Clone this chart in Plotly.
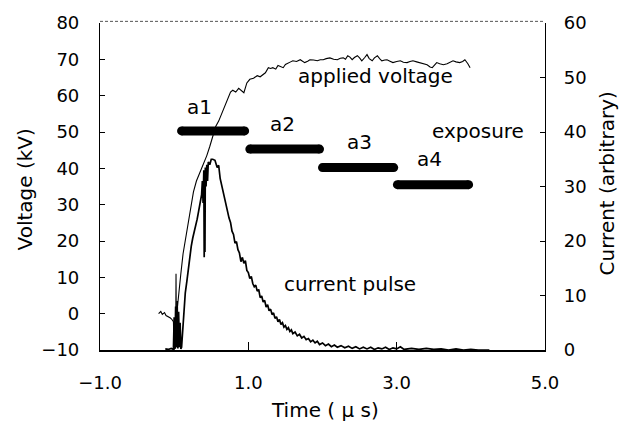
import plotly.graph_objects as go

# ---- data ----
t_voltage = [-0.21,-0.18,-0.16,-0.13,-0.11,-0.08,-0.05,-0.03,-0.01,0.00,0.01,0.02,0.025,0.03,0.04,0.06,0.09,0.12,0.16,0.19,
             0.23,0.26,0.30,0.35,0.40,0.44,0.48,0.52,0.56,0.60,0.64,0.67,0.70,0.73,0.76,0.79,0.83,0.87,0.90,0.94,
             0.98,1.02,1.07,1.12,1.16,1.20,1.23,1.27,1.30,1.33,1.37,1.40,1.43,1.47,1.50,1.54,1.57,1.60,1.65,1.70,
             1.73,1.76,1.80,1.83,1.88,1.93,1.97,2.01,2.05,2.10,2.15,2.20,2.24,2.28,2.31,2.34,2.37,2.40,2.43,2.47,
             2.50,2.53,2.57,2.60,2.63,2.67,2.70,2.74,2.77,2.80,2.84,2.87,2.91,2.95,3.00,3.05,3.09,3.14,3.18,3.22,
             3.27,3.31,3.36,3.41,3.45,3.48,3.51,3.54,3.58,3.63,3.68,3.72,3.76,3.80,3.85,3.89,3.92,3.96,3.99]
voltage_kv = [0.0,0.6,-0.2,0.3,-0.5,-0.8,-1.2,-1.6,-2.2,-10,-5,-9.5,11,-8,1,5.5,11,16.5,21.5,25.5,
              30,33.5,36.5,39,41,43.5,46,49,51.5,53,55,56,57.5,59,61,61.5,61,62,61.5,60.8,
              63.5,64.5,64.8,65.5,65.2,65.8,66.3,67.7,67.5,67.7,67.3,68.3,68.0,67.7,68.6,69.1,69.3,69.6,69.4,69.9,
              69.6,69.1,69.5,69.9,69.8,69.6,69.9,69.9,70.2,70.4,70.0,69.9,70.3,70.4,70.0,71.0,70.6,69.9,70.5,71.0,
              70.4,69.6,70.5,71.3,70.2,69.6,70.4,71.0,70.2,69.6,69.8,69.9,69.5,69.1,69.4,69.6,69.2,69.1,69.4,69.6,
              69.3,69.1,68.8,68.5,67.9,67.7,68.4,69.1,68.8,68.5,68.8,69.3,69.6,69.3,69.1,69.4,69.9,68.8,67.7]

t_current = [-0.12,-0.08,-0.04,-0.01,0.00,0.01,0.02,0.03,0.04,0.05,0.06,0.07,0.08,0.09,0.10,0.11,0.13,0.15,0.17,0.19,
             0.21,0.23,0.25,0.27,0.29,0.31,0.33,0.35,0.37,0.38,0.39,0.40,0.405,0.41,0.415,0.42,0.43,0.44,0.45,0.46,
             0.48,0.50,0.52,0.55,0.58,0.60,0.62,0.64,0.66,0.68,0.70,0.72,0.74,0.76,0.78,0.80,0.82,0.84,0.86,0.88,
             0.90,0.92,0.94,0.96,0.98,1.00,1.02,1.04,1.06,1.08,1.10,1.12,1.14,1.16,1.18,1.20,1.22,1.24,1.26,1.28,
             1.30,1.32,1.34,1.36,1.38,1.40,1.42,1.44,1.46,1.48,1.50,1.52,1.54,1.56,1.58,1.60,1.63,1.66,1.69,1.72,
             1.75,1.78,1.81,1.84,1.87,1.90,1.93,1.96,2.00,2.04,2.08,2.12,2.16,2.20,2.25,2.30,2.35,2.40,2.45,2.50,
             2.55,2.60,2.65,2.70,2.75,2.80,2.85,2.90,2.95,3.00,3.05,3.10,3.20,3.30,3.40,3.50,3.60,3.70,3.80,3.90,
             4.00,4.10,4.25]
current_arb = [0.2,0.1,0.3,0.1,6,0.2,8,0.5,9,0.3,7,0.5,5,0.2,0.5,3,7.5,10.5,12.5,15,
               17.5,19,20.5,21.5,23,24,25.5,27,28.5,31,27,33,17,32,18,33.5,30,34,31,34.5,
               34,35,35,34.8,33.5,33.9,31.5,30.2,28.9,27.8,26.3,25.4,24.2,23.4,21.8,21.2,19.6,19.9,18.4,17.8,
               16.2,17.0,15.9,16.4,14.6,14.2,13.1,13.5,12.2,11.6,11.9,10.8,11.1,9.6,9.9,8.8,9.1,7.9,8.3,7.2,
               7.5,6.5,6.8,5.8,6.1,5.2,5.6,4.7,5.0,4.2,4.5,3.8,4.1,3.4,3.7,3.0,3.3,2.6,2.9,2.2,
               2.5,1.9,2.1,1.5,1.8,1.3,1.6,1.0,1.3,0.8,1.1,0.6,0.9,0.5,0.8,0.4,0.7,0.3,0.6,0.2,
               0.5,0.2,0.5,0.1,0.4,0.2,0.5,0.1,0.4,0.2,0.6,0.1,0.3,0.1,0.3,0.1,0.2,0.0,0.2,0.0,
               0.1,0.0,0.0]

exposure_labels = ["a1", "a2", "a3", "a4"]
exposure_start = [0.10, 1.02, 2.00, 3.01]
exposure_end = [0.95, 1.96, 2.96, 3.97]
exposure_kv = [50.3, 45.3, 40.2, 35.5]

x_ticks = [-1.0, 1.0, 3.0, 5.0]

FONT = "DejaVu Sans"

fig = go.Figure()

fig.add_trace(go.Scatter(x=t_current, y=current_arb, mode="lines", yaxis="y2",
                         line=dict(color="black", width=1.7), showlegend=False))
fig.add_trace(go.Scatter(x=t_voltage, y=voltage_kv, mode="lines",
                         line=dict(color="black", width=1.1), showlegend=False))

for s, e, v in zip(exposure_start, exposure_end, exposure_kv):
    fig.add_trace(go.Scatter(x=[s, e], y=[v, v], mode="lines+markers",
                             line=dict(color="black", width=9),
                             marker=dict(color="black", size=9, line=dict(width=0)),
                             showlegend=False))

label_pos = [(0.335, 56.8), (1.454, 52.2), (2.505, 47.3), (3.436, 42.6)]
annotations = []
for lab, (x, y) in zip(exposure_labels, label_pos):
    annotations.append(dict(x=x, y=y, text=lab, showarrow=False, xref="x", yref="y",
                            xanchor="center", yanchor="middle",
                            font=dict(family=FONT, size=20, color="black")))
for txt, x, y in [("exposure", 4.097, 50.3), ("applied voltage", 2.721, 65.5), ("current pulse", 2.371, 8.3)]:
    annotations.append(dict(x=x, y=y, text=txt, showarrow=False, xref="x", yref="y",
                            xanchor="center", yanchor="middle",
                            font=dict(family=FONT, size=20, color="black")))

annotations.append(dict(x=-0.1685, y=0.491, xref="paper", yref="paper", text="Voltage (kV)",
                        textangle=-90, showarrow=False, xanchor="center", yanchor="middle",
                        font=dict(family=FONT, size=20, color="black")))
annotations.append(dict(x=1.139, y=0.509, xref="paper", yref="paper", text="Current (arbitrary)",
                        textangle=-90, showarrow=False, xanchor="center", yanchor="middle",
                        font=dict(family=FONT, size=20, color="black")))
annotations.append(dict(x=0.5056, y=-0.185, xref="paper", yref="paper", text="Time ( μ s)",
                        showarrow=False, xanchor="center", yanchor="middle",
                        font=dict(family=FONT, size=20, color="black")))

fig.update_layout(
    width=628, height=425, autosize=False,
    margin=dict(l=100, r=83, t=20, b=75, pad=0),
    paper_bgcolor="white", plot_bgcolor="white",
    font=dict(family=FONT, size=18, color="black"),
    annotations=annotations,
    xaxis=dict(range=[-1, 5], tickvals=x_ticks, tickformat=".1f", ticks="inside", ticklen=8,
               tickcolor="black", showline=True, linecolor="black", linewidth=1.5, showgrid=False,
               zeroline=False, ticklabelstandoff=16, tickfont=dict(size=18)),
    yaxis=dict(range=[-10, 80], dtick=10, ticks="inside", ticklen=5, tickcolor="black",
               showline=True, linecolor="black", linewidth=1.2, showgrid=False, zeroline=False,
               ticklabelstandoff=16, tickfont=dict(size=18)),
    yaxis2=dict(range=[0, 60], dtick=10, ticks="inside", ticklen=5, tickcolor="black",
                overlaying="y", side="right", showline=True, linecolor="black", linewidth=1.2,
                showgrid=False, zeroline=False, ticklabelstandoff=14, tickfont=dict(size=18)),
    shapes=[dict(type="line", xref="paper", yref="paper", x0=0, x1=1, y0=1.005, y1=1.005,
                 line=dict(color="#555", width=1, dash="3px,2px"))],
)

fig.write_html("out.html")
